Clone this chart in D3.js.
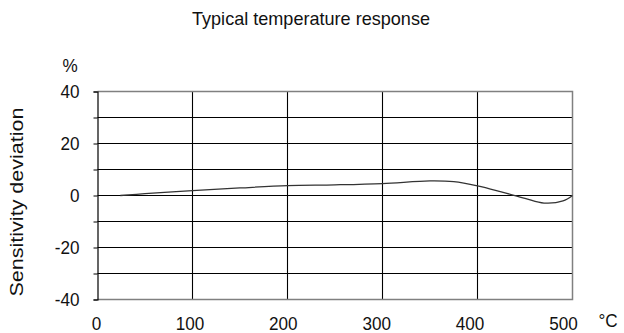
<!DOCTYPE html>
<html><head><meta charset="utf-8">
<script src="https://cdn.jsdelivr.net/npm/d3@7"></script>
<style>body{margin:0;background:#fff}text{font-family:"Liberation Sans",Arial,sans-serif;fill:#111}</style>
</head><body><svg id="c" width="624" height="333"></svg>
<script>
const temps = [24, 50, 100, 150, 200, 250, 300, 350, 375, 400, 425, 450, 470, 490, 500];
const deviation = [0, 0.7, 1.9, 2.9, 3.8, 4.1, 4.6, 5.6, 5.3, 3.7, 1.4, -1.1, -2.9, -2.1, 0];
const xTicks = [0, 100, 200, 300, 400, 500];
const yTicks = [40, 20, 0, -20, -40];
const yGrid = [40, 30, 20, 10, 0, -10, -20, -30, -40];

const FS = 19;
const svg = d3.select("#c");
const L = 97.5, R = 572.5, T = 91.5, B = 299.5;
const x = d3.scaleLinear().domain([0, 500]).range([L, R]);
const xLab = d3.scaleLinear().domain([0, 500]).range([96, 563]);
const y = d3.scaleLinear().domain([-40, 40]).range([B, T]);

function squeeze(sel, k) {
  sel.each(function () {
    const w = this.getComputedTextLength();
    d3.select(this).attr("textLength", w * k).attr("lengthAdjust", "spacingAndGlyphs");
  });
}

// horizontal grid
svg.append("g").selectAll("line").data(yGrid.filter(v => v !== 40 && v !== -40)).join("line")
  .attr("x1", L).attr("x2", R).attr("y1", d => y(d)).attr("y2", d => y(d))
  .attr("stroke", "#000").attr("stroke-width", 1.1);
// vertical grid
svg.append("g").selectAll("line").data(xTicks.filter(v => v > 0 && v < 500)).join("line")
  .attr("x1", d => x(d)).attr("x2", d => x(d)).attr("y1", T).attr("y2", B)
  .attr("stroke", "#000").attr("stroke-width", 1.1);
// border gray
svg.append("path").attr("d", `M${L},${T}H${R}V${B}H${L}`).attr("fill", "none")
  .attr("stroke", "#808080").attr("stroke-width", 1.5);

// y axis
const ya = svg.append("g").attr("transform", `translate(${L},0)`)
  .call(d3.axisLeft(y).tickValues(yGrid).tickSize(4).tickFormat(d => yTicks.includes(d) ? d : ""));
ya.select(".domain").attr("stroke", "#000").attr("stroke-width", 1.2);
ya.selectAll(".tick line").attr("stroke", "#000");
ya.selectAll(".tick text").attr("x", -18).attr("font-size", FS).style("font-family", "Liberation Sans, Arial, sans-serif").attr("fill", "#111");
squeeze(ya.selectAll(".tick text"), 0.9);

// x labels
const xa = svg.append("g").attr("transform", `translate(0,${B + 21})`)
  .call(d3.axisBottom(xLab).tickValues(xTicks).tickSize(0).tickFormat(d3.format("d")));
xa.select(".domain").remove();
xa.selectAll(".tick text").attr("font-size", FS).attr("dy", "0.35em").style("font-family", "Liberation Sans, Arial, sans-serif").attr("fill", "#111");
squeeze(xa.selectAll(".tick text"), 0.9);

// curve
const line = d3.line().x((d, i) => x(temps[i])).y(d => y(d)).curve(d3.curveCatmullRom.alpha(0.5));
svg.append("path").datum(deviation).attr("d", line).attr("fill", "none")
  .attr("stroke", "#333").attr("stroke-width", 1.3);

// texts
const title = svg.append("text").attr("x", 311).attr("y", 25).attr("text-anchor", "middle").attr("font-size", FS).text("Typical temperature response");
title.attr("textLength", 238).attr("lengthAdjust", "spacingAndGlyphs");
squeeze(svg.append("text").attr("x", 70).attr("y", 72).attr("text-anchor", "middle").attr("font-size", FS).text("%"), 0.9);
squeeze(svg.append("text").attr("x", 608).attr("y", 327).attr("text-anchor", "middle").attr("font-size", FS).text("°C"), 0.9);
svg.append("text").attr("transform", "translate(23,202) rotate(-90)").attr("text-anchor", "middle").attr("font-size", FS)
  .attr("textLength", 189).attr("lengthAdjust", "spacingAndGlyphs").text("Sensitivity deviation");
</script></body></html>
